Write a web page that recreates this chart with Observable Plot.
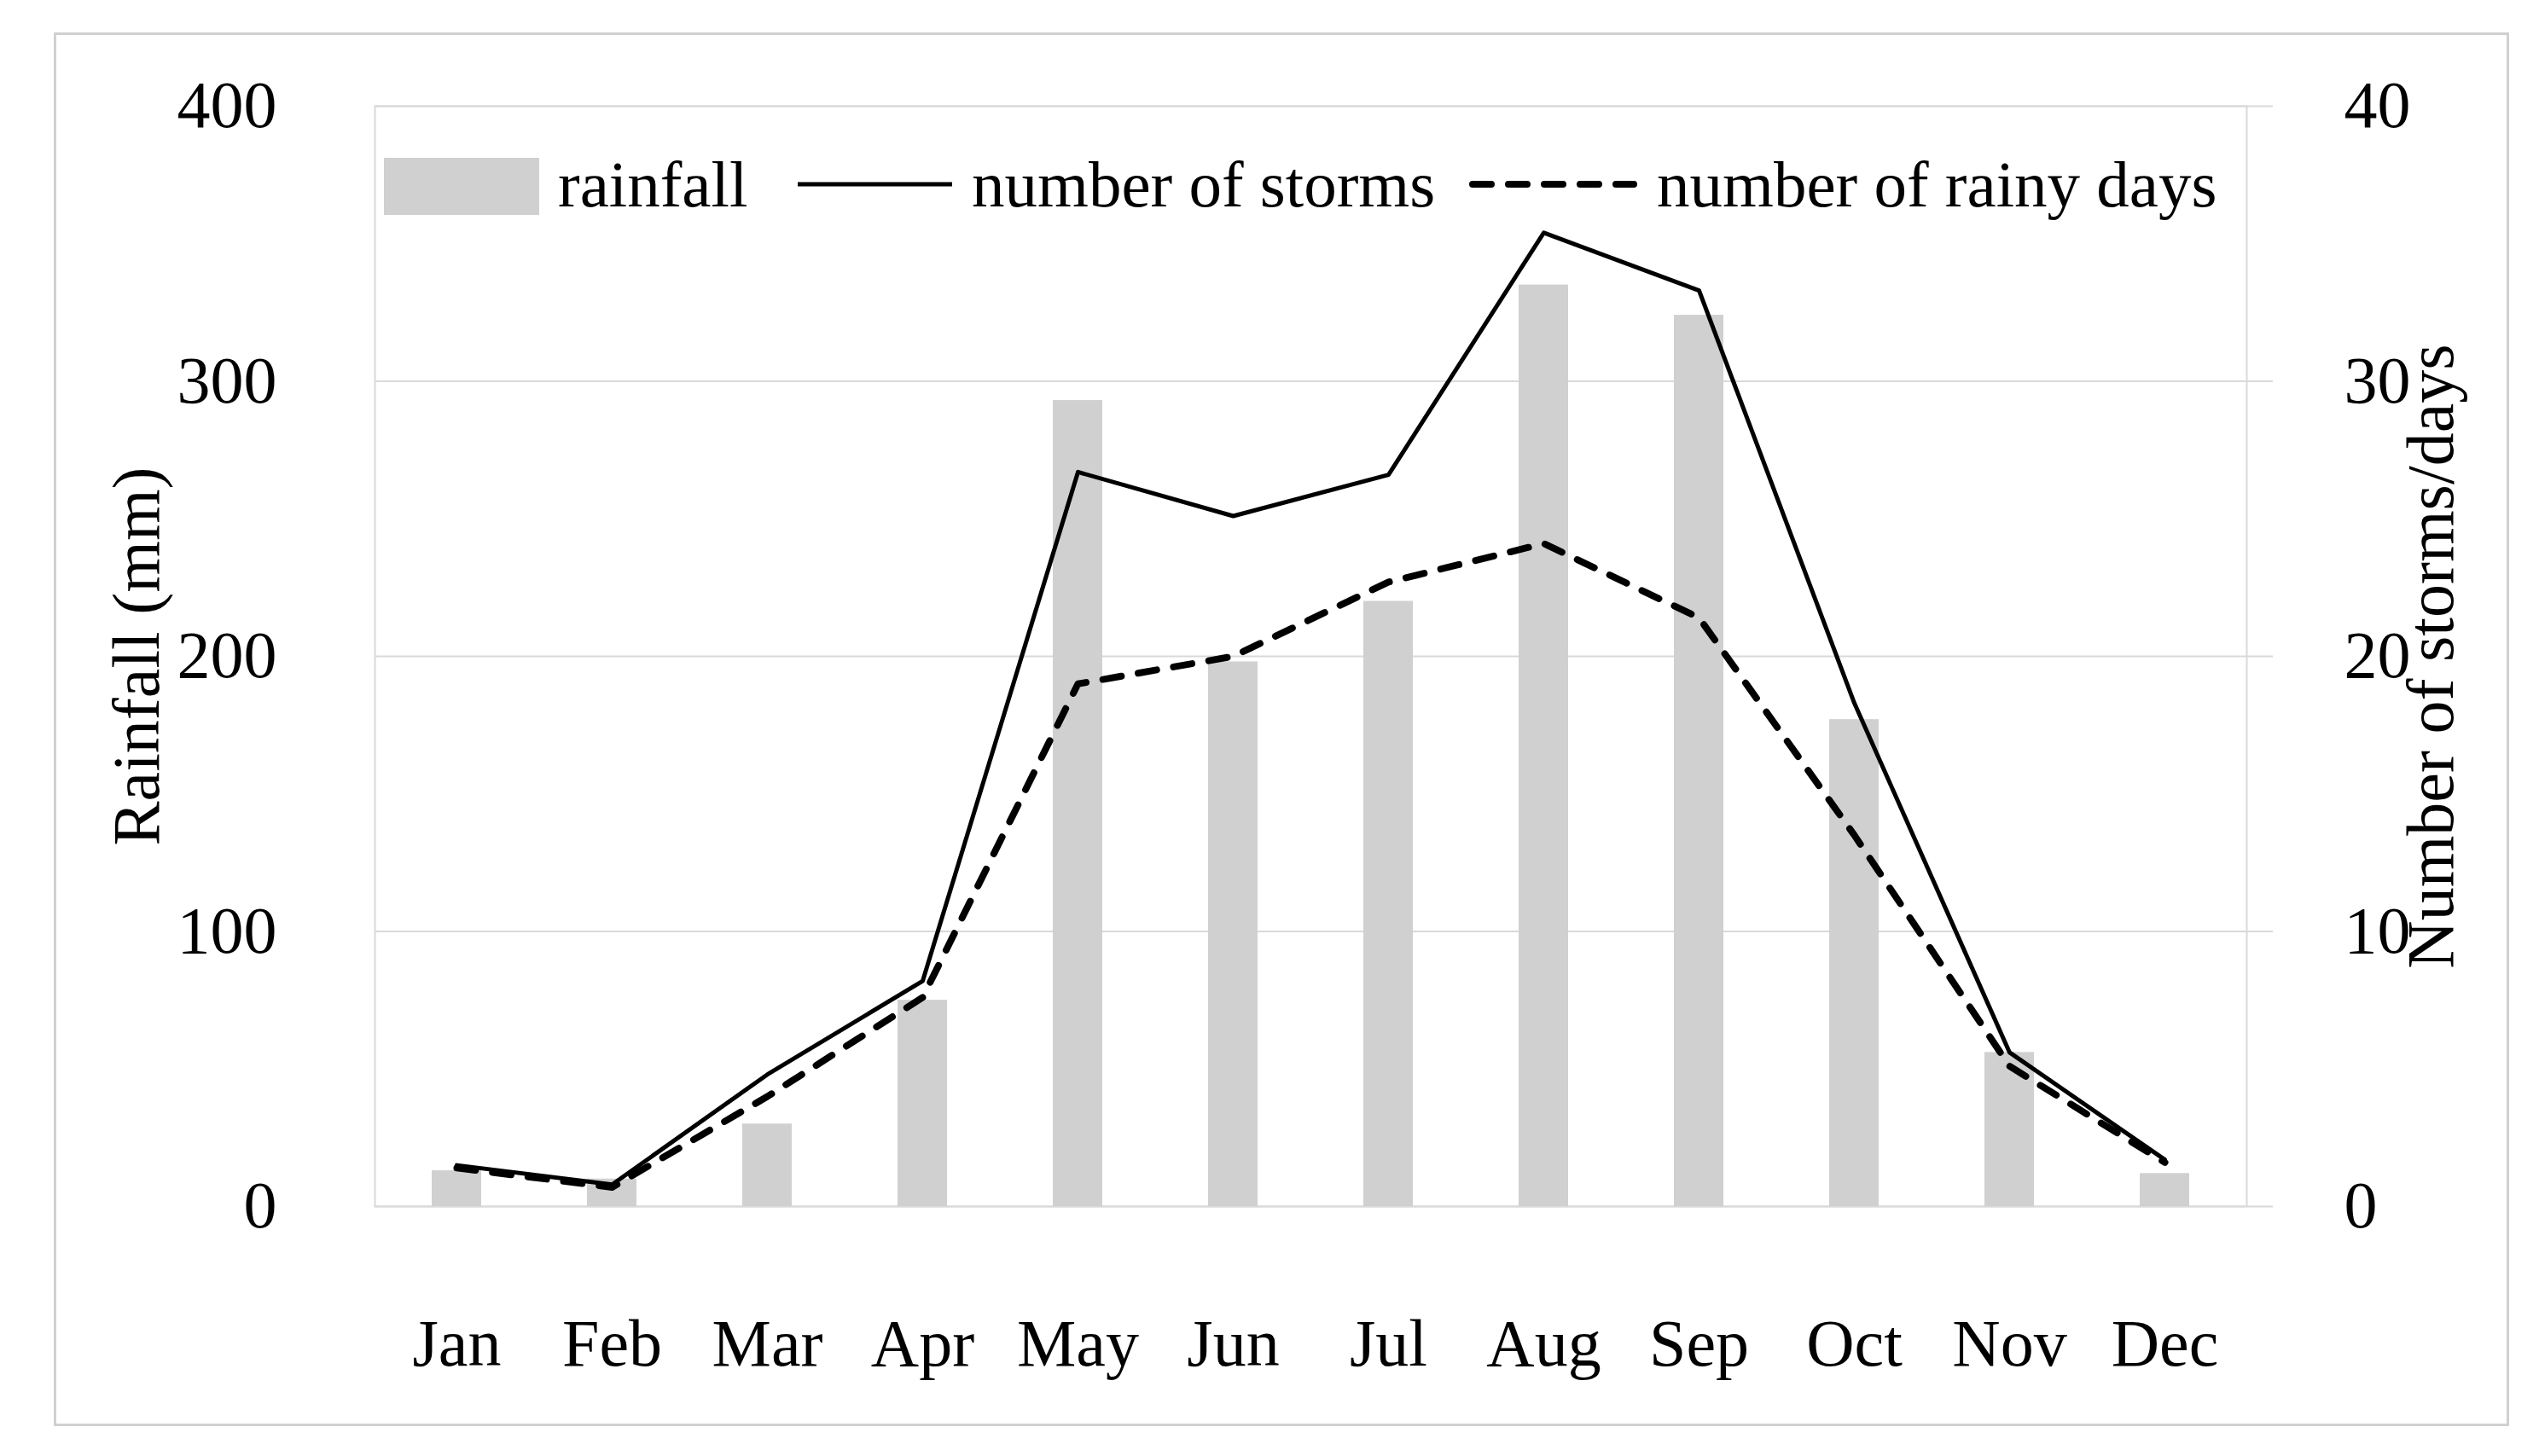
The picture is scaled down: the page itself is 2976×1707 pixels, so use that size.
<!DOCTYPE html>
<html><head><meta charset="utf-8">
<script src="https://cdn.jsdelivr.net/npm/d3@7"></script>
<script src="https://cdn.jsdelivr.net/npm/@observablehq/plot@0.6"></script>
<style>
html,body{margin:0;padding:0;background:#fff;}
#wrap{position:relative;width:2976px;height:1707px;overflow:hidden;font-family:"Liberation Serif","Times New Roman",serif;}
#frame{position:absolute;left:63px;top:38px;width:2872px;height:1628px;border:3px solid #d0d0d0;}
#chart{position:absolute;left:0;top:0;}
#legend{position:absolute;left:0;top:0;}
</style></head><body>
<div id="wrap"><div id="frame"></div><div id="chart"></div><svg id="legend" width="2976" height="1707"></svg></div>
<script>
const months = ["Jan","Feb","Mar","Apr","May","Jun","Jul","Aug","Sep","Oct","Nov","Dec"];
const rainfall = [13, 10, 30, 75, 293, 198, 220, 335, 324, 177, 56, 12];
const storms = [1.5, 0.8, 4.8, 8.2, 26.7, 25.1, 26.6, 35.4, 33.3, 18.3, 5.6, 1.7];
const rainyDays = [1.4, 0.7, 4.0, 7.6, 19.0, 20.0, 22.7, 24.1, 21.4, 13.5, 5.1, 1.6];
const leftTicks = [0, 100, 200, 300, 400];
const rightTicks = [0, 10, 20, 30, 40];
const seriesNames = ["rainfall", "number of storms", "number of rainy days"];

const leftMax = leftTicks[leftTicks.length - 1];
const rightMax = rightTicks[rightTicks.length - 1];
const k = leftMax / rightMax;

const data = months.map((m, i) => ({month: m, rainfall: rainfall[i], storms: storms[i], rainy: rainyDays[i]}));

const grid = "#d9d9d9";
const barFill = "#d0d0d0";
const FS = 78;
const dash = "22,20";

const chart = Plot.plot({
  width: 2976,
  height: 1707,
  marginLeft: 439,
  marginRight: 343,
  marginTop: 124,
  marginBottom: 293,
  style: {fontFamily: '"Liberation Serif", "Times New Roman", serif', fontSize: FS + "px", background: "transparent", color: "black"},
  x: {domain: months, paddingInner: 0.68, paddingOuter: 0.34},
  y: {domain: [0, leftMax]},
  marks: [
    Plot.gridY({ticks: leftTicks, stroke: grid, strokeOpacity: 1, strokeWidth: 2}),
    Plot.frame({stroke: grid, strokeWidth: 2}),
    Plot.barY(data, {x: "month", y: "rainfall", fill: barFill}),
    Plot.lineY(data, {x: "month", y: d => d.rainy * k, stroke: "black", strokeWidth: 8, strokeDasharray: dash, strokeLinecap: "round"}),
    Plot.lineY(data, {x: "month", y: d => d.storms * k, stroke: "black", strokeWidth: 5}),
    Plot.axisX({tickSize: 0, tickPadding: 131, fontSize: FS, label: null}),
    Plot.axisY({anchor: "left", ticks: leftTicks, tickSize: 0, tickPadding: 115, fontSize: FS,
      label: "Rainfall (mm)", labelAnchor: "center", labelOffset: 309, labelArrow: "none"}),
    Plot.axisY({anchor: "right", ticks: leftTicks, tickFormat: (d, i) => String(rightTicks[i]), tickSize: 30, tickPadding: 84,
      stroke: grid, strokeWidth: 2, fill: "black", fontSize: FS,
      label: "Number of storms/days", labelAnchor: "center", labelOffset: 241, labelArrow: "none"})
  ]
});
document.getElementById("chart").appendChild(chart);

// legend
const lg = d3.select("#legend").attr("font-family", '"Liberation Serif", "Times New Roman", serif').attr("font-size", 77);
lg.append("rect").attr("x", 450).attr("y", 185).attr("width", 182).attr("height", 67).attr("fill", barFill);
lg.append("text").attr("x", 654).attr("y", 242).text(seriesNames[0]);
lg.append("line").attr("x1", 935).attr("x2", 1116).attr("y1", 216).attr("y2", 216).attr("stroke", "black").attr("stroke-width", 5);
lg.append("text").attr("x", 1139).attr("y", 242).text(seriesNames[1]);
lg.append("line").attr("x1", 1726).attr("x2", 1915).attr("y1", 216).attr("y2", 216).attr("stroke", "black").attr("stroke-width", 8).attr("stroke-dasharray", dash).attr("stroke-linecap", "round");
lg.append("text").attr("x", 1942).attr("y", 242).text(seriesNames[2]);
</script>
</body></html>
